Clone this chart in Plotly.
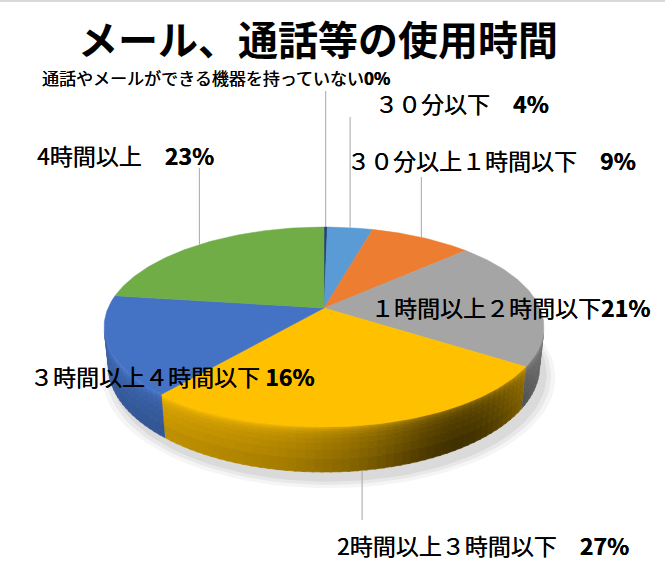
import math

import plotly.graph_objects as go

# ---- data ----
title = "メール、通話等の使用時間"
categories = ["通話やメールができる機器を持っていない", "３０分以下", "３０分以上１時間以下",
              "１時間以上２時間以下", "2時間以上３時間以下", "３時間以上４時間以下", "4時間以上"]
values = [0.3, 4, 9, 21, 27, 16, 23]
colors = ["#264478", "#5B9BD5", "#ED7D31", "#A5A5A5", "#FFC000", "#4472C4", "#70AD47"]

# ---- label layout (canvas pixels) ----
label_pos = [(40, 77), (373, 103), (345, 160), (369, 307), (335, 545), (28, 376), (35, 155)]
label_size = [17, 23, 23, 23, 23, 23, 23]
label_gap = ["", "　", "　", "", "　", " ", "　"]
leader_from = [91, 117, 177, None, 520, None, 168]
FONT = "Noto Sans CJK JP"

# ---- tilted disc, simple perspective ----
CX, CY = 324, 308
DIST, ELEV, FOCAL = 4.71, math.radians(26.5), 1017
THICK = 0.2055


def project(theta, drop=0.0):
    th = math.radians(theta)
    s, c = math.sin(ELEV), math.cos(ELEV)
    x, y, z = math.sin(th), -drop, -math.cos(th)
    depth = DIST - (y * s + z * c)
    u = x * FOCAL / depth
    v = (y * c - z * s) * FOCAL / depth
    return CX + u, CY - v


def shade(hex_color, f):
    rgb = [int(hex_color[i:i + 2], 16) for i in (1, 3, 5)]
    if f <= 1:
        rgb = [int(ch * max(f, 0)) for ch in rgb]
    else:
        rgb = [int(ch + (255 - ch) * min(f - 1, 1)) for ch in rgb]
    return "rgb(%d,%d,%d)" % tuple(rgb)


def side_light(theta):
    th = math.radians(theta)
    f = 0.74 + 0.18 * max(0.0, -math.sin(th))
    f -= 0.38 * math.exp(-((theta - 148) / 24.0) ** 2)
    return f


def band_light(t):
    # bevel highlight near the rim, slightly darker towards the bottom
    return 0.22 * math.exp(-t / 0.1) - 0.12 * t


def arc(a0, a1, drop=0.0, step=1.0):
    n = max(2, int(math.ceil((a1 - a0) / step)) + 1)
    return [project(a0 + (a1 - a0) * k / (n - 1), drop) for k in range(n)]


total = sum(values)
bounds = []
start = 0.0
for v in values:
    end = start + v / total * 360
    bounds.append((start, end))
    start = end

fig = go.Figure()

# soft shadow under the disc
for k, alpha in [(1.05, 0.04), (1.03, 0.05), (1.01, 0.06)]:
    pts = arc(0, 360, THICK, 3)
    bx = [CX + 5 + (p[0] - CX) * k for p in pts]
    by = [CY + 8 + (p[1] - CY) * k for p in pts]
    fig.add_trace(go.Scatter(x=bx, y=by, fill="toself", mode="lines",
                             line=dict(width=0), fillcolor="rgba(0,0,0,%.2f)" % alpha,
                             hoverinfo="skip"))

# visible side wall
vis_lo = math.degrees(math.acos(-1 / (DIST * math.cos(ELEV))))
vis_hi = 360 - vis_lo
cuts = [0.0, 0.05, 0.1, 0.16, 0.24, 0.35, 0.5, 0.7, 1.0]
for (a0, a1), col in zip(bounds, colors):
    lo, hi = max(a0, vis_lo), min(a1, vis_hi)
    if hi <= lo:
        continue
    n = max(1, int(math.ceil((hi - lo) / 2.0)))
    for k in range(n):
        s0 = lo + (hi - lo) * k / n
        s1 = lo + (hi - lo) * (k + 1) / n
        e0, e1 = max(lo, s0 - 0.3), min(hi, s1 + 0.3)
        f = side_light((s0 + s1) / 2)
        for t0, t1 in zip(cuts[:-1], cuts[1:]):
            top = arc(e0, e1, THICK * t0, 1)
            bot = arc(e0, e1, THICK * t1, 1)[::-1]
            pts = top + bot
            c = shade(col, f + band_light((t0 + t1) / 2))
            fig.add_trace(go.Scatter(x=[p[0] for p in pts], y=[p[1] for p in pts],
                                     fill="toself", mode="lines",
                                     line=dict(width=0.6, color=c), fillcolor=c,
                                     hoverinfo="skip"))

# top face
for (a0, a1), col in zip(bounds, colors):
    pts = [(CX, CY)] + arc(a0, a1, 0, 1) + [(CX, CY)]
    fig.add_trace(go.Scatter(x=[p[0] for p in pts], y=[p[1] for p in pts],
                             fill="toself", mode="lines",
                             line=dict(width=0.5, color=col), fillcolor=col,
                             hoverinfo="skip"))

# leader lines and labels
for i, (a0, a1) in enumerate(bounds):
    pct = round(values[i] / total * 100)
    lx, ly = label_pos[i]
    fig.add_annotation(x=lx, y=ly, xref="x", yref="y", showarrow=False,
                       xanchor="left", yanchor="middle",
                       text="%s%s<b>%d%%</b>" % (categories[i], label_gap[i], pct),
                       font=dict(family=FONT, size=label_size[i], color="#000000",
                                 shadow="0.35px 0 0 #000"))
    if leader_from[i] is None:
        continue
    mid = (a0 + a1) / 2
    drop = THICK if vis_lo < mid < vis_hi else 0.0
    px, py = project(mid, drop)
    fig.add_trace(go.Scatter(x=[px, px], y=[leader_from[i], py], mode="lines",
                             line=dict(width=1, color="#A6A6A6"), hoverinfo="skip"))

fig.add_annotation(x=318, y=38, xref="x", yref="y", showarrow=False,
                   text="<b>%s</b>" % title,
                   font=dict(family=FONT, size=40, color="#000000"))

fig.add_shape(type="line", xref="paper", yref="paper", x0=0, x1=1, y0=1, y1=1,
              line=dict(color="#D9D9D9", width=4))

fig.update_layout(
    width=665, height=566,
    margin=dict(l=0, r=0, t=0, b=0),
    paper_bgcolor="white", plot_bgcolor="white",
    showlegend=False,
    xaxis=dict(range=[0, 665], visible=False, fixedrange=True),
    yaxis=dict(range=[566, 0], visible=False, fixedrange=True),
)

fig.write_html("out.html", config={"displayModeBar": False},
               post_script="document.body.style.margin = '0';")
